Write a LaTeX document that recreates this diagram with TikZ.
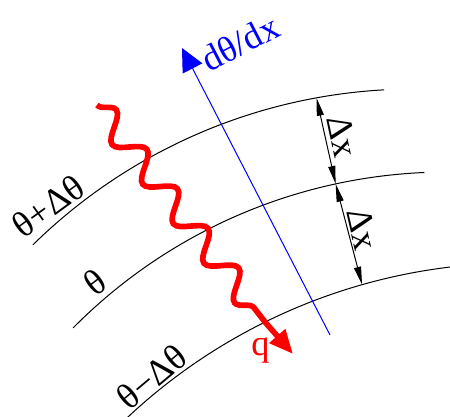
\documentclass[tikz,border=0pt]{standalone}
\usepackage{fontspec}
\setmainfont{Liberation Serif}
\usetikzlibrary{calc,arrows.meta,decorations.pathmorphing}

\begin{document}
\begin{tikzpicture}[
  x=0.03cm, y=0.03cm,
  level/.style={line width=0.03cm},
  gap/.style={line width=0.03cm,{Triangle[length=0.54cm,width=0.21cm]}-{Triangle[length=0.54cm,width=0.21cm]}},
  gradline/.style={blue,line width=0.03cm,-{Triangle[length=0.69cm,width=0.66cm]}},
  heatwave/.style={red,line width=0.17cm,decorate,decoration={snake,amplitude=0.37cm,segment length=1.5cm}},
  heatarrow/.style={red,line width=0.17cm,-{Triangle[length=0.72cm,width=0.6cm]}},
  every node/.style={inner sep=0pt,font=\fontsize{31}{36}\selectfont}
]
  \useasboundingbox (0,0) rectangle (450,416);
  % centres of the three level curves
  \coordinate (c1) at (414,-217);
  \coordinate (c2) at (446.7,-281.6);
  \coordinate (c3) at (517.7,-417.3);
  \draw[level] ($(c1)+(134.48:544)$) arc[start angle=134.48,end angle=93.16,radius=544];
  \draw[level] ($(c2)+(135.31:525.6)$) arc[start angle=135.31,end angle=92.44,radius=525.6];
  \draw[level] ($(c3)+(133.3:570.3)$) arc[start angle=133.3,end angle=96.82,radius=570.3];
  % points for the two gaps
  \coordinate (u1) at ($(c1)+(100.33:544)$);
  \coordinate (m1) at ($(c2)+(102.2:525.6)$);
  \coordinate (b1) at ($(c3)+(105.84:570.3)$);
  \draw[gap] (u1) -- (m1);
  \draw[gap] (m1) -- (b1);
  % gradient direction
  \coordinate (gbot) at (330,81);
  \coordinate (gtop) at (182,368);
  \draw[gradline] (gbot) -- (gtop);
  % heat flux
  \coordinate (w0) at (97,311);
  \coordinate (w1) at (265,94);
  \coordinate (qtip) at (293,62);
  \draw[heatwave] (w0) -- (w1);
  \draw[heatarrow] (w1) -- (qtip);
  % labels
  \node[blue,rotate=27.3] (grad) at (240,373) {dθ/dx};
  \node[rotate=36] (tplus) at (48,210) {θ+Δθ};
  \node[rotate=37] (tmid) at (95,134) {θ};
  \node[rotate=40] (tminus) at (152,39) {θ−Δθ};
  \node[rotate=-78] (dx1) at (342.5,279.5) {Δx};
  \node[rotate=-77] (dx2) at (363,187) {Δx};
  \node[red] (q) at (260.5,65) {q};
\end{tikzpicture}
\end{document}
